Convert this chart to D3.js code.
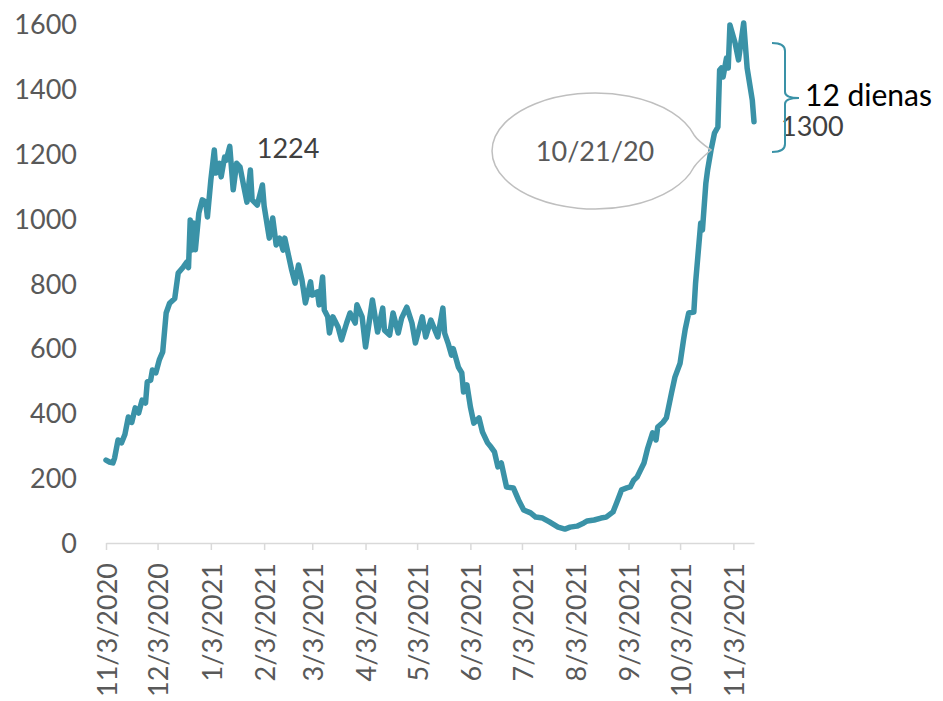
<!DOCTYPE html>
<html>
<head>
<meta charset="utf-8">
<script src="https://cdn.jsdelivr.net/npm/d3@7"></script>
<style>
  body { margin: 0; background: #fff; }
  svg { display: block; font-family: Lato, "Open Sans", sans-serif; }
</style>
</head>
<body>
<div id="chart"></div>
<script>
// daily cases
const dates = [
  "2020-11-03","2020-11-05","2020-11-07","2020-11-08","2020-11-10","2020-11-12","2020-11-14","2020-11-16",
  "2020-11-18","2020-11-20","2020-11-22","2020-11-24","2020-11-26","2020-11-27","2020-11-29","2020-11-30",
  "2020-12-02","2020-12-04","2020-12-06","2020-12-08","2020-12-10","2020-12-13","2020-12-15","2020-12-18",
  "2020-12-20","2020-12-21","2020-12-22","2020-12-23","2020-12-24","2020-12-25","2020-12-27","2020-12-29",
  "2020-12-31","2021-01-01","2021-01-03","2021-01-05","2021-01-06","2021-01-08","2021-01-09","2021-01-11",
  "2021-01-12","2021-01-14","2021-01-16","2021-01-18","2021-01-20","2021-01-22","2021-01-24","2021-01-26",
  "2021-01-27","2021-01-30","2021-02-02","2021-02-03","2021-02-06","2021-02-08","2021-02-10","2021-02-12",
  "2021-02-14","2021-02-15","2021-02-19","2021-02-21","2021-02-23","2021-02-25","2021-02-27","2021-03-02",
  "2021-03-03","2021-03-06","2021-03-07","2021-03-09","2021-03-10","2021-03-12","2021-03-13","2021-03-15",
  "2021-03-18","2021-03-20","2021-03-23","2021-03-25","2021-03-28","2021-03-29","2021-04-01","2021-04-03",
  "2021-04-07","2021-04-10","2021-04-13","2021-04-14","2021-04-17","2021-04-19","2021-04-22","2021-04-24",
  "2021-04-27","2021-04-30","2021-05-02","2021-05-06","2021-05-08","2021-05-11","2021-05-15","2021-05-18",
  "2021-05-19","2021-05-21","2021-05-23","2021-05-24","2021-05-27","2021-05-29","2021-05-30","2021-06-01",
  "2021-06-03","2021-06-05","2021-06-08","2021-06-10","2021-06-13","2021-06-15","2021-06-17","2021-06-19",
  "2021-06-21","2021-06-24","2021-06-28","2021-07-01","2021-07-04","2021-07-08","2021-07-11","2021-07-15",
  "2021-07-19","2021-07-24","2021-07-28","2021-07-31","2021-08-04","2021-08-08","2021-08-10","2021-08-14",
  "2021-08-18","2021-08-21","2021-08-25","2021-08-27","2021-08-30","2021-09-02","2021-09-04","2021-09-06",
  "2021-09-08","2021-09-10","2021-09-12","2021-09-14","2021-09-17","2021-09-19","2021-09-20","2021-09-23",
  "2021-09-25","2021-09-28","2021-09-30","2021-10-03","2021-10-05","2021-10-06","2021-10-08","2021-10-11",
  "2021-10-12","2021-10-14","2021-10-15","2021-10-16","2021-10-18","2021-10-19","2021-10-21","2021-10-23",
  "2021-10-25","2021-10-26","2021-10-27","2021-10-28","2021-10-30","2021-10-31","2021-11-01","2021-11-04",
  "2021-11-06","2021-11-09","2021-11-11","2021-11-14","2021-11-15"
];
const cases = [
  256,250,247,262,318,309,335,389,
  372,417,401,441,432,497,503,534,
  525,565,590,710,740,755,833,852,
  867,850,997,904,988,905,1018,1059,
  1052,1006,1120,1213,1142,1172,1130,1191,
  1182,1224,1090,1172,1160,1105,1052,1151,
  1059,1043,1105,1040,941,1003,920,941,
  904,941,843,802,858,812,741,806,
  765,775,735,821,719,698,648,698,
  667,627,679,710,679,735,698,605,
  750,651,725,657,642,710,648,694,
  728,679,617,698,636,688,636,725,
  648,617,580,600,543,525,466,488,
  420,370,386,343,309,296,281,235,
  247,173,170,133,102,93,80,77,
  65,49,43,49,52,62,68,71,
  77,80,96,123,164,170,173,194,
  204,225,247,290,340,318,358,372,
  386,463,512,555,627,660,710,713,
  802,926,988,966,1111,1151,1213,1265,
  1284,1460,1466,1438,1497,1466,1599,1543,
  1491,1605,1466,1367,1300
];
const tickDates = ["2020-11-03","2020-12-03","2021-01-03","2021-02-03","2021-03-03","2021-04-03",
  "2021-05-03","2021-06-03","2021-07-03","2021-08-03","2021-09-03","2021-10-03","2021-11-03"];
const yTicks = [0, 200, 400, 600, 800, 1000, 1200, 1400, 1600];

const parse = d3.timeParse("%Y-%m-%d");
const fmt = d3.timeFormat("%-m/%-d/%Y");
const data = dates.map((d, i) => ({ date: parse(d), value: cases[i] }));

const width = 943, height = 701;
const svg = d3.select("#chart").append("svg")
  .attr("width", width)
  .attr("height", height);

const x = d3.scaleTime()
  .domain([parse("2020-11-03"), parse("2021-11-15")])
  .range([106, 754]);
const y = d3.scaleLinear()
  .domain([0, 1600])
  .range([543, 24.6]);

// y axis labels only (no line)
svg.append("g")
  .selectAll("text")
  .data(yTicks)
  .join("text")
  .attr("x", 77)
  .attr("y", d => y(d))
  .attr("dy", "0.36em")
  .attr("text-anchor", "end")
  .attr("font-size", "27px")
  .attr("fill", "#595959")
  .text(d => d);

// x axis
const xAxis = svg.append("g")
  .attr("transform", "translate(0,543)")
  .call(d3.axisBottom(x)
    .tickValues(tickDates.map(parse))
    .tickSize(7)
    .tickSizeOuter(0)
    .tickFormat(fmt));
xAxis.select(".domain").attr("stroke", "#d9d9d9").attr("stroke-width", 1.5);
xAxis.selectAll(".tick line").attr("stroke", "#d9d9d9").attr("stroke-width", 1.5);
xAxis.selectAll(".tick text")
  .attr("font-size", "27px")
  .attr("font-family", "Lato, 'Open Sans', sans-serif")
  .attr("fill", "#595959")
  .attr("text-anchor", "end")
  .attr("transform", "rotate(-90)")
  .attr("x", -20)
  .attr("y", 0)
  .attr("dy", "0.38em");

// the line
const line = d3.line()
  .x(d => x(d.date))
  .y(d => y(d.value));

svg.append("path")
  .datum(data)
  .attr("fill", "none")
  .attr("stroke", "#3a92a7")
  .attr("stroke-width", 5.5)
  .attr("stroke-linejoin", "round")
  .attr("stroke-linecap", "round")
  .attr("d", line);

// peak label
const peak = data.find(d => d.value === 1224);
svg.append("text")
  .attr("x", x(peak.date) + 27)
  .attr("y", y(peak.value) + 12)
  .attr("font-size", "27px")
  .attr("fill", "#404040")
  .text("1224");

// last value label
const last = data[data.length - 1];
svg.append("text")
  .attr("x", x(last.date) + 27)
  .attr("y", y(last.value) + 14)
  .attr("font-size", "27px")
  .attr("fill", "#404040")
  .text("1300");

// callout bubble pointing to 10/21
const callPt = data.find(d => fmt(d.date) === "10/21/2021");
const tipX = x(callPt.date), tipY = y(callPt.value);
const cx = tipX - 116, cy = tipY + 1, rx = 103, ry = 58;
const a1 = -0.28, a2 = 0.28;
const p1 = [cx + rx * Math.cos(a1), cy + ry * Math.sin(a1)];
const p2 = [cx + rx * Math.cos(a2), cy + ry * Math.sin(a2)];
const bubble = `M${p1[0]},${p1[1]} A${rx},${ry} 0 1 0 ${p2[0]},${p2[1]} Q${p2[0] + 4},${p2[1] - 6} ${tipX},${tipY} Q${p1[0] + 4},${p1[1] + 6} ${p1[0]},${p1[1]} Z`;
svg.append("path")
  .attr("d", bubble)
  .attr("fill", "none")
  .attr("stroke", "#bfbfbf")
  .attr("stroke-width", 1.5);
svg.append("text")
  .attr("x", cx)
  .attr("y", cy)
  .attr("dy", "0.36em")
  .attr("text-anchor", "middle")
  .attr("font-size", "27px")
  .attr("fill", "#595959")
  .text("10/21/20");

// brace for the last 12 days
const bTop = 43, bBot = 152, bMid = 98, bx = 785;
svg.append("path")
  .attr("d", `M772,${bTop} Q${bx},${bTop} ${bx},${bTop + 8} L${bx},${bMid - 6} Q${bx},${bMid} ${bx + 14},${bMid} Q${bx},${bMid} ${bx},${bMid + 6} L${bx},${bBot - 8} Q${bx},${bBot} 772,${bBot}`)
  .attr("fill", "none")
  .attr("stroke", "#3a92a7")
  .attr("stroke-width", 2);
svg.append("text")
  .attr("x", 805)
  .attr("y", 106)
  .attr("font-size", "30px")
  .attr("fill", "#000")
  .text("12 dienas");
</script>
</body>
</html>
